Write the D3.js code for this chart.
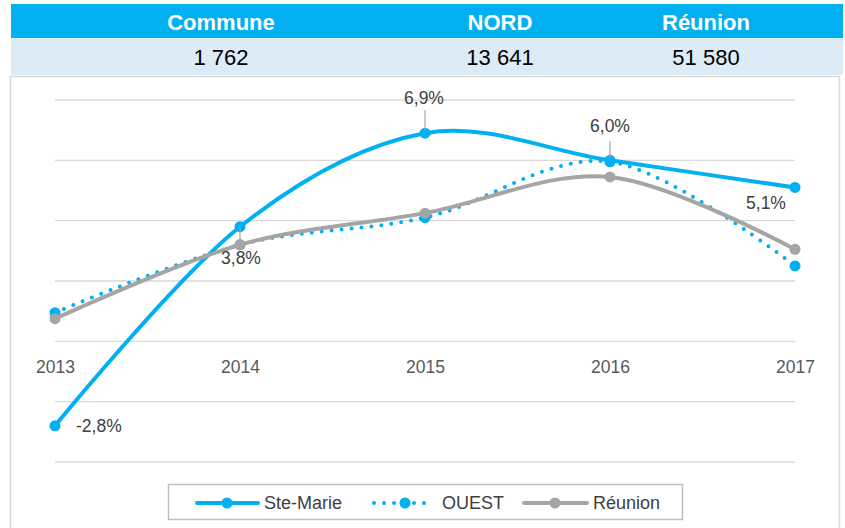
<!DOCTYPE html>
<html>
<head>
<meta charset="utf-8">
<script src="https://cdn.jsdelivr.net/npm/d3@7"></script>
<style>
  html, body { margin: 0; padding: 0; background: #ffffff; }
  svg { display: block; font-family: "Liberation Sans", Arial, sans-serif; }
</style>
</head>
<body>
<div id="chart"></div>
<script>
// ---- Data ----
const headerLabels = ["Commune", "NORD", "Réunion"];
const headerValues = ["1 762", "13 641", "51 580"];
const years = ["2013", "2014", "2015", "2016", "2017"];
const steMarie = [-2.8, 3.8, 6.9, 6.0, 5.1];
const ouest = [0.95, 3.2, 4.1, 5.95, 2.5];
const reunion = [0.75, 3.2, 4.25, 5.45, 3.05];
const seriesNames = ["Ste-Marie", "OUEST", "Réunion"];
const yTicks = [-4, -2, 0, 2, 4, 6, 8];

// ---- Setup ----
const W = 845, H = 528;
const svg = d3.select("#chart").append("svg").attr("width", W).attr("height", H);

// Header table
const colCenters = [221, 500, 706];
svg.append("rect").attr("x", 11).attr("y", 4).attr("width", 832).attr("height", 34).attr("fill", "#00B0F0");
svg.append("rect").attr("x", 11).attr("y", 38).attr("width", 832).attr("height", 37).attr("fill", "#DDEBF7");
svg.selectAll("text.hdr").data(headerLabels).enter().append("text")
  .attr("class", "hdr")
  .attr("x", (d, i) => colCenters[i]).attr("y", 30)
  .attr("text-anchor", "middle").attr("font-weight", "bold").attr("font-size", 22)
  .attr("fill", "#ffffff").text(d => d);
svg.selectAll("text.hval").data(headerValues).enter().append("text")
  .attr("class", "hval")
  .attr("x", (d, i) => colCenters[i]).attr("y", 65)
  .attr("text-anchor", "middle").attr("font-size", 22)
  .attr("fill", "#000000").text(d => d);

// Chart border
svg.append("rect").attr("x", 10.5).attr("y", 76.5).attr("width", 829).attr("height", 480)
  .attr("fill", "#ffffff").attr("stroke", "#D9D9D9").attr("stroke-width", 1.5);

// Scales
const x = d3.scalePoint().domain(years).range([55, 795]);
const y = d3.scaleLinear().domain([-4, 8]).range([462, 100]);

// Gridlines
svg.append("g").selectAll("line").data(yTicks).enter().append("line")
  .attr("x1", 55).attr("x2", 795)
  .attr("y1", d => y(d)).attr("y2", d => y(d))
  .attr("stroke", "#D9D9D9").attr("stroke-width", 1.3);

// X axis labels (at zero line)
const xAxis = d3.axisBottom(x).tickSize(0).tickPadding(0);
const gx = svg.append("g").attr("transform", `translate(0,${y(0)})`).call(xAxis);
gx.select(".domain").remove();
gx.selectAll("text")
  .attr("dy", null).attr("y", 32)
  .attr("font-size", 17.5).attr("fill", "#595959")
  .attr("font-family", "Liberation Sans, Arial, sans-serif");

// Lines
const line = d3.line().x((d, i) => x(years[i])).y(d => y(d)).curve(d3.curveCardinal);
const blue = "#00B0F0", gray = "#A5A5A5";
const sw = 4, mr = 5.5;

svg.append("path").datum(steMarie).attr("d", line)
  .attr("fill", "none").attr("stroke", blue).attr("stroke-width", sw).attr("stroke-linecap", "round");
svg.append("g").selectAll("circle").data(steMarie).enter().append("circle")
  .attr("cx", (d, i) => x(years[i])).attr("cy", d => y(d)).attr("r", mr).attr("fill", blue);

svg.append("path").datum(ouest).attr("d", line)
  .attr("fill", "none").attr("stroke", blue).attr("stroke-width", sw)
  .attr("stroke-dasharray", "0 10").attr("stroke-linecap", "round");
svg.append("g").selectAll("circle").data(ouest).enter().append("circle")
  .attr("cx", (d, i) => x(years[i])).attr("cy", d => y(d)).attr("r", mr).attr("fill", blue);

svg.append("path").datum(reunion).attr("d", line)
  .attr("fill", "none").attr("stroke", gray).attr("stroke-width", sw).attr("stroke-linecap", "round");
svg.append("g").selectAll("circle").data(reunion).enter().append("circle")
  .attr("cx", (d, i) => x(years[i])).attr("cy", d => y(d)).attr("r", mr).attr("fill", gray);

// Data labels for Ste-Marie
const fmt = v => d3.format(".1f")(v).replace(".", ",").replace("−", "-") + "%";
const labelOffsets = [
  { dx: 21, dy: 6, anchor: "start", lead: null },
  { dx: 1, dy: 37, anchor: "middle", lead: [2, 16] },
  { dx: -1, dy: -29, anchor: "middle", lead: [-3, -23] },
  { dx: 0, dy: -28, anchor: "middle", lead: [-2, -19] },
  { dx: -29, dy: 22, anchor: "middle", lead: null }
];
steMarie.forEach((v, i) => {
  const px = x(years[i]), py = y(v), o = labelOffsets[i];
  if (o.lead) {
    svg.append("line").attr("x1", px).attr("x2", px)
      .attr("y1", py + o.lead[0]).attr("y2", py + o.lead[1])
      .attr("stroke", "#A6A6A6").attr("stroke-width", 1.2);
  }
  svg.append("text").attr("x", px + o.dx).attr("y", py + o.dy)
    .attr("text-anchor", o.anchor).attr("font-size", 17.5).attr("fill", "#404040")
    .text(fmt(v));
});

// Legend
svg.append("rect").attr("x", 168.5).attr("y", 484.5).attr("width", 514).attr("height", 35)
  .attr("fill", "#ffffff").attr("stroke", "#BFBFBF").attr("stroke-width", 1.5);
const legendItems = [
  { x1: 197, x2: 258, cx: 227, tx: 264, color: blue, dash: null },
  { x1: 374, x2: 434, cx: 405, tx: 442, color: blue, dash: "0 10" },
  { x1: 524, x2: 587, cx: 555, tx: 593, color: gray, dash: null }
];
const ly = 503;
legendItems.forEach((it, i) => {
  const l = svg.append("line").attr("x1", it.x1).attr("x2", it.x2).attr("y1", ly).attr("y2", ly)
    .attr("stroke", it.color).attr("stroke-width", sw).attr("stroke-linecap", "round");
  if (it.dash) l.attr("stroke-dasharray", it.dash);
  svg.append("circle").attr("cx", it.cx).attr("cy", ly).attr("r", mr).attr("fill", it.color);
  svg.append("text").attr("x", it.tx).attr("y", ly + 6).attr("font-size", 18)
    .attr("fill", "#404040").text(seriesNames[i]);
});
</script>
</body>
</html>
